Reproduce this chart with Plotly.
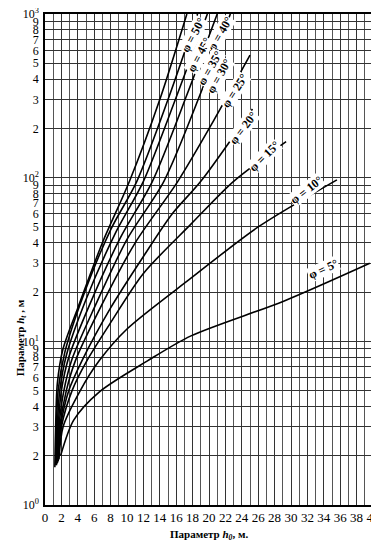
import plotly.graph_objects as go
import math

# ---- data: curve points (h0, ht) ----
phi_labels = ["φ = 50°", "φ = 45°", "φ = 40°", "φ = 35°", "φ = 30°",
              "φ = 25°", "φ = 20°", "φ = 15°", "φ = 10°", "φ = 5°"]

h0_50 = [1.2, 1.3, 1.5, 2.2, 4.0, 7.0, 10.3, 14.0, 17.3]
ht_50 = [1.7, 3.0, 5.5, 9.0, 16, 40, 95, 300, 1000]

h0_45 = [1.3, 1.4, 1.6, 2.4, 4.5, 8.0, 11.2, 15.0, 18.6]
ht_45 = [1.75, 3.0, 5.0, 8.5, 18, 48, 95, 300, 1000]

h0_40 = [1.4, 1.5, 1.8, 2.6, 5.0, 8.6, 12.0, 16.0, 19.8]
ht_40 = [1.75, 3.0, 5.0, 8.2, 18, 46, 95, 310, 1000]

h0_35 = [1.4, 1.6, 2.0, 2.9, 5.5, 9.2, 13.1, 17.4, 21.0]
ht_35 = [1.8, 3.0, 5.0, 8.0, 17, 43, 95, 330, 1000]

h0_30 = [1.5, 1.7, 2.3, 3.3, 6.0, 10.0, 14.5, 19.0, 22.6]
ht_30 = [1.8, 3.0, 5.0, 7.8, 16, 42, 95, 330, 1000]

h0_25 = [1.5, 1.8, 2.6, 3.7, 7.0, 11.0, 16.2, 20.5, 25.0]
ht_25 = [1.8, 3.0, 5.0, 7.6, 17, 40, 95, 220, 560]

h0_20 = [1.6, 1.9, 2.9, 4.5, 8.0, 12.0, 15.5, 19.0, 25.3]
ht_20 = [1.85, 3.0, 5.0, 7.6, 16, 33, 60, 95, 263]

h0_15 = [1.6, 2.0, 3.3, 5.1, 8.0, 12.0, 17.8, 23.0, 29.4]
ht_15 = [1.85, 3.0, 5.0, 7.6, 13, 26, 52, 95, 166]

h0_10 = [1.7, 2.2, 4.3, 6.6, 10.0, 17.8, 26.0, 35.6]
ht_10 = [1.9, 3.0, 5.0, 7.6, 11.9, 24.3, 50, 97]

h0_5 = [1.9, 3.5, 6.6, 12.5, 17.8, 29.1, 39.6]
ht_5 = [2.0, 3.3, 4.9, 7.6, 10.8, 17.6, 30]

curves_x = [h0_50, h0_45, h0_40, h0_35, h0_30, h0_25, h0_20, h0_15, h0_10, h0_5]
curves_y = [ht_50, ht_45, ht_40, ht_35, ht_30, ht_25, ht_20, ht_15, ht_10, ht_5]

# label anchor points (h0, ht) and angles
label_h0 = [18.1, 18.8, 21.3, 20.1, 21.2, 23.1, 24.2, 26.8, 31.9, 34.0]
label_ht = [740, 560, 760, 470, 420, 340, 200, 135, 84, 27.5]
label_ang = [-62, -62, -60, -60, -60, -57, -53, -45, -38, -25]

x_ticks = list(range(0, 41, 2))

fig = go.Figure()
for xs, ys in zip(curves_x, curves_y):
    fig.add_trace(go.Scatter(x=xs, y=ys, mode="lines",
                             line=dict(color="black", width=1.6, shape="spline", smoothing=0.8),
                             showlegend=False, hoverinfo="skip"))

for t, hx, hy, a in zip(phi_labels, label_h0, label_ht, label_ang):
    fig.add_annotation(x=hx, y=math.log10(hy), text="<b>" + t + "</b>", showarrow=False,
                       textangle=a, font=dict(family="Liberation Serif", size=12, color="black"),
                       bgcolor="white", borderpad=0)

yvals, ytext = [], []
for d in range(0, 4):
    for m in range(1, 10):
        if d == 3 and m > 1:
            break
        yvals.append(m * 10 ** d)
        ytext.append("10<sup>%d</sup>" % d if m == 1 else str(m))

fig.update_xaxes(range=[0, 40], tickvals=x_ticks, ticktext=[str(v) for v in x_ticks],
                 showgrid=True, gridcolor="#333", gridwidth=1,
                 minor=dict(dtick=1, showgrid=True, gridcolor="#555", gridwidth=0.8),
                 showline=True, linecolor="black", linewidth=1.5, mirror=True,
                 ticks="", ticklabeloverflow="allow",
                 tickfont=dict(family="Liberation Serif", size=13, color="black"),
                 zeroline=False, automargin=False)
fig.update_yaxes(type="log", range=[0, 3], tickvals=yvals, ticktext=ytext,
                 showgrid=True, gridcolor="#333", gridwidth=1,
                 showline=True, linecolor="black", linewidth=1.5, mirror=True,
                 ticks="", ticklabelstandoff=2, ticklabeloverflow="allow",
                 tickfont=dict(family="Liberation Serif", size=12, color="black"),
                 zeroline=False, automargin=False)

fig.add_annotation(xref="paper", yref="paper", x=-0.10, y=0.34, textangle=-90,
                   text="<b>Параметр <i>h<sub>t</sub></i> , м</b>", showarrow=False,
                   font=dict(family="Liberation Serif", size=11, color="black"))
fig.add_annotation(xref="paper", yref="paper", x=0.5, y=-0.061, yanchor="middle",
                   text="<b>Параметр <i>h<sub>0</sub></i>, м.</b>", showarrow=False,
                   font=dict(family="Liberation Serif", size=11, color="black"))

# page body adds an 8px offset, so the figure is sized to fit the window
fig.update_layout(width=371, height=535, margin=dict(l=37, r=6, t=6, b=38),
                  plot_bgcolor="white", paper_bgcolor="white")
fig.write_html("out.html")
